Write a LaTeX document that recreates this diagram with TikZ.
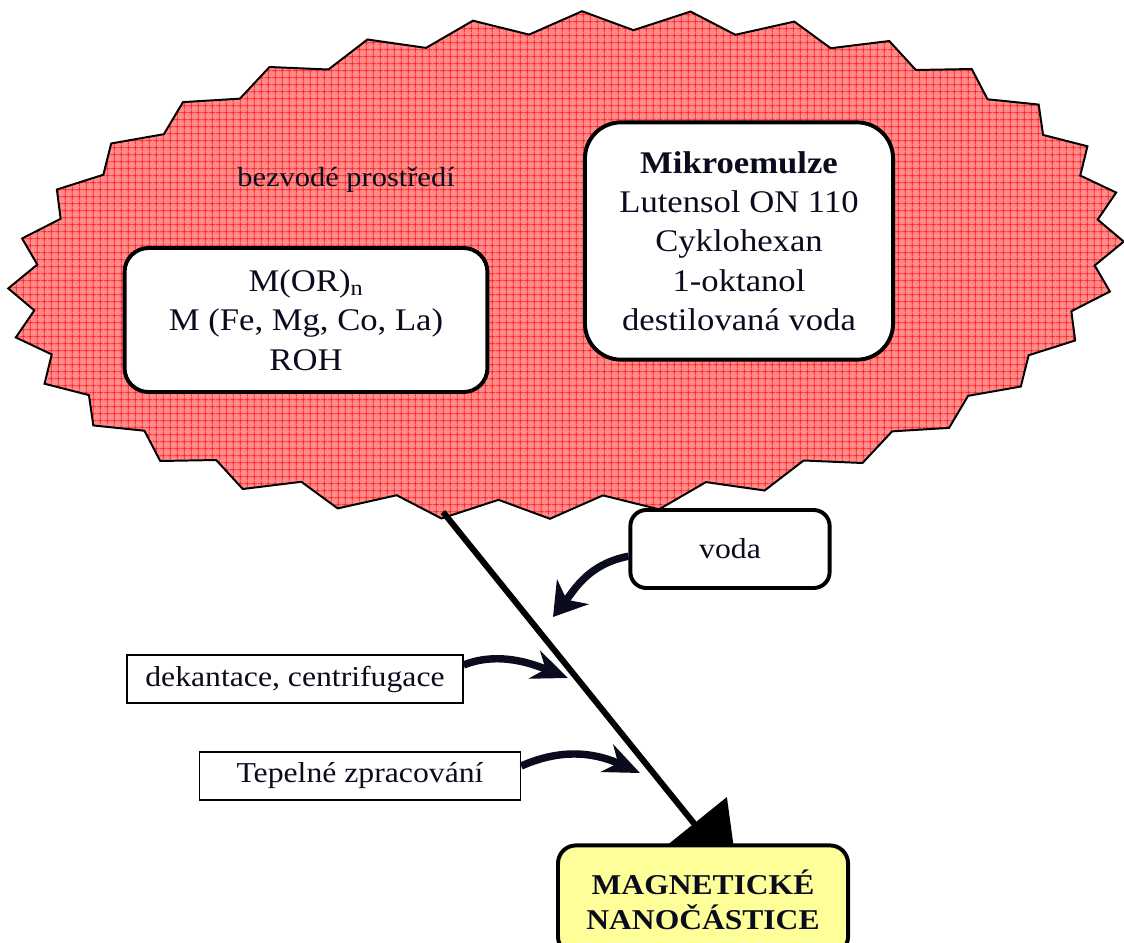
\documentclass[tikz,border=0pt]{standalone}
\usepackage{fontspec}
\setmainfont{Liberation Serif}[FakeStretch=1.1]
\usepackage{xcolor}
\definecolor{inkoust}{RGB}{10,12,30}
\definecolor{ruzova}{RGB}{255,140,140}
\definecolor{cervena}{RGB}{255,20,20}
\definecolor{zluta}{RGB}{255,255,153}
\usepackage{tikz}
\usetikzlibrary{arrows.meta,patterns.meta}

\tikzdeclarepattern{
  name=mrizka,
  bounding box={(0pt,0pt) and (4.75pt,4.75pt)},
  tile size={(4.75pt,4.75pt)},
  code={
    \draw[line width=0.6pt] (0pt,2.375pt) -- (4.75pt,2.375pt)
                            (2.375pt,0pt) -- (2.375pt,4.75pt);
  }
}

\begin{document}
\begin{tikzpicture}[x=0.025cm,y=-0.025cm,
            oblak/.style={draw=black,line width=1.4pt,line join=miter,
              preaction={fill=ruzova},pattern=mrizka,pattern color=cervena},
            ramecek/.style={draw=black,fill=white,line width=2.8pt,
              align=center,text=inkoust,inner sep=0pt,
            font=\fontsize{22.4}{28}\selectfont},
            stitek/.style={draw=black,fill=white,line width=0.8pt,
              align=center,text=inkoust,inner sep=0pt,minimum height=1.2cm,
            font=\fontsize{20.5}{25}\selectfont},
            sipka/.style={-{Stealth[length=0.9cm,width=0.75cm,inset=0.3cm]},
              line width=5.3pt,draw=inkoust},
            hlavni/.style={-{Triangle[length=1.75cm,width=2.07cm]},
              line width=4.3pt,draw=black}
            ]
            \useasboundingbox (0,0) rectangle (1124,942);

            % zubaty oblak
            \draw[oblak] ({566+558*cos(1.65)},{265+253*sin(1.65)-30.7*cos(1.65)})
            \foreach \k [evaluate=\k as \a using 1.65+11.25*\k,
                         evaluate=\k as \b using 7.275+11.25*\k,
                         evaluate=\k as \c using 12.9+11.25*\k] in {0,...,31}{
              -- ({566+533*cos(\b)},{265+233*sin(\b)-29.3*cos(\b)})
              -- ({566+558*cos(\c)},{265+253*sin(\c)-30.7*cos(\c)})
            } -- cycle;

            \node[text=inkoust,font=\fontsize{19.7}{24}\selectfont]
                                                    (prostredi) at (346,180) {bezvodé prostředí};
            \node[ramecek,minimum width=9.07cm,minimum height=3.6cm,
            rounded corners=0.6cm]                  (kov) at (306,320)
                 {M(OR)\textsubscript{n}\\M (Fe, Mg, Co, La)\\ROH};
            \node[ramecek,minimum width=7.7cm,minimum height=5.93cm,
            rounded corners=0.9cm]                  (mikro) at (739,241)
                 {\textbf{Mikroemulze}\\Lutensol ON 110\\Cyklohexan\\1-oktanol\\destilovaná voda};

            \coordinate (zdroj) at (443,512);
            \coordinate (cil) at (738,878);
            \draw[hlavni] (zdroj)--(cil);

            \node[ramecek,minimum width=4.98cm,minimum height=1.95cm,
            rounded corners=0.4cm,
            font=\fontsize{20.5}{25}\selectfont]    (voda) at (730,549) {voda};
            \node[stitek,minimum width=8.4cm]       (dek) at (295,679) {dekantace, centrifugace};
            \node[stitek,minimum width=8.03cm]      (tep) at (360,776) {Tepelné zpracování};

            \coordinate (vodahrot) at (553,617);
            \coordinate (dekhrot) at (568,678);
            \coordinate (tephrot) at (640,773);

            \draw[sipka,-{Stealth[length=0.8cm,width=1cm,inset=0.25cm]}]
            ([yshift=-0.18cm]voda.west)
            .. controls +(-40,8) and +(22,-28) .. (vodahrot);
            \draw[sipka] ([yshift=0.35cm]dek.east)
            .. controls +(35,-14) and +(-35,-14) .. (dekhrot);
            \draw[sipka] ([yshift=0.25cm]tep.east)
            .. controls +(45,-20) and +(-40,-18) .. (tephrot);

            \node[ramecek,fill=zluta,minimum width=7.25cm,minimum height=2.73cm,
            rounded corners=0.45cm,
            font=\fontsize{20.4}{24.9}\selectfont\bfseries] (magnet) at (703,900)
                 {MAGNETICKÉ\\NANOČÁSTICE};
          \end{tikzpicture}
\end{document}
